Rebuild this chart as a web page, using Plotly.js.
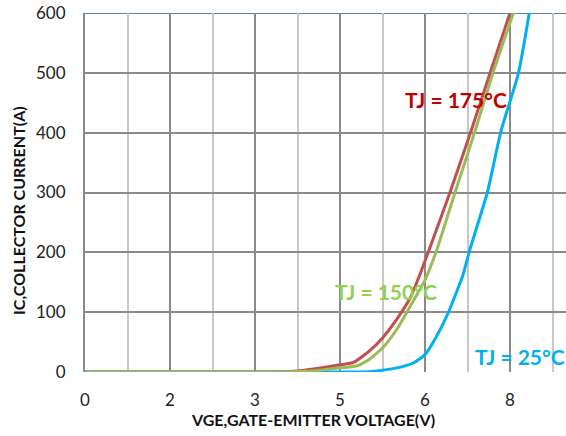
<!DOCTYPE html>
<html>
<head>
<meta charset="utf-8">
<script src="https://cdn.plot.ly/plotly-3.0.1.min.js"></script>
<style>html,body{margin:0;padding:0;background:#fff;}#chart{width:566px;height:436px;}</style>
</head>
<body>
<div id="chart"></div>
<script>
// Data
const seriesNames = ["TJ = 175°C", "TJ = 150°C", "TJ = 25°C"];
const vge175 = [0, 3.0, 3.5, 3.8, 4.15, 4.5, 4.74, 5.03, 5.25, 5.5, 5.74, 5.91, 6.06, 6.44, 6.82, 7.15, 7.5];
const ic175  = [0, 0, 0.5, 2, 6.6, 12, 16, 36, 57, 88, 124, 163, 201, 300, 405, 500, 600];
const vge150 = [0, 3.5, 4.0, 4.15, 4.5, 4.79, 5.0, 5.25, 5.5, 5.74, 6.0, 6.2, 6.53, 6.88, 7.2, 7.56];
const ic150  = [0, 0, 1.5, 3, 7, 10, 20, 40, 71, 110, 154, 202, 300, 402, 500, 600];
const vge25  = [0, 4.5, 5.0, 5.32, 5.6, 5.79, 6.0, 6.2, 6.41, 6.55, 6.67, 6.79, 7.1, 7.34, 7.65, 7.84];
const ic25   = [0, 0, 0.5, 4, 9, 15, 29, 59, 99, 132, 162, 204, 300, 402, 500, 600];
const xTickVals = [0, 1.5, 3, 4.5, 6, 7.5];
const xTickText = ["0", "2", "3", "5", "6", "8"];
const yTickVals = [0, 100, 200, 300, 400, 500, 600];
const xTitle = "VGE,GATE-EMITTER VOLTAGE(V)";
const yTitle = "IC,COLLECTOR CURRENT(A)";

const font = "Lato, 'Open Sans', sans-serif";
const lineShape = {shape: "spline", smoothing: 0.5};
const traces = [
  {x: vge175, y: ic175, name: seriesNames[0], mode: "lines", line: Object.assign({color: "#C0504D", width: 3}, lineShape)},
  {x: vge25,  y: ic25,  name: seriesNames[2], mode: "lines", line: Object.assign({color: "#00B0F0", width: 3}, lineShape)},
  {x: vge150, y: ic150, name: seriesNames[1], mode: "lines", line: Object.assign({color: "#9BBB59", width: 3}, lineShape)}
];

const layout = {
  width: 566, height: 436,
  margin: {l: 85, r: 0, t: 13, b: 64},
  paper_bgcolor: "#fff", plot_bgcolor: "#fff",
  showlegend: false,
  font: {family: font, color: "#222", size: 16},
  xaxis: {
    range: [0, 8.488], tickmode: "array", tickvals: xTickVals, ticktext: xTickText,
    showgrid: true, gridcolor: "#8a8a8a", gridwidth: 2, zeroline: false, showline: false,
    ticks: "", ticklabelstandoff: 16, tickfont: {size: 17, family: font, color: "#222"},
    minor: {dtick: 0.75, tick0: 0, showgrid: true, gridcolor: "#c8c8c8", gridwidth: 2, ticks: ""}
  },
  yaxis: {
    range: [0, 600], tickmode: "array", tickvals: yTickVals,
    showgrid: true, gridcolor: "#8a8a8a", gridwidth: 2, zeroline: false,
    showline: true, linecolor: "#8a8a8a", linewidth: 2,
    ticks: "", ticklabelstandoff: 14, tickfont: {size: 17, family: font, color: "#222"}
  },
  shapes: [
    {type: "line", xref: "paper", yref: "y", x0: 0, x1: 1, y0: 600, y1: 600, layer: "between",
     line: {color: "#4F81BD", width: 2}}
  ],
  annotations: [
    {x: 6.55, y: 455, text: "<b>" + seriesNames[0] + "</b>", showarrow: false,
     xanchor: "center", yanchor: "middle", font: {family: font, size: 21, color: "#C00000"}},
    {x: 5.32, y: 135, text: "<b>" + seriesNames[1] + "</b>", showarrow: false,
     xanchor: "center", yanchor: "middle", font: {family: font, size: 21, color: "#92D050"}},
    {x: 7.68, y: 26, text: "<b>" + seriesNames[2] + "</b>", showarrow: false,
     xanchor: "center", yanchor: "middle", font: {family: font, size: 21, color: "#00B0F0"}},
    {xref: "paper", yref: "paper", x: 0.473, y: -0.133, text: "<b>" + xTitle + "</b>", showarrow: false,
     xanchor: "center", yanchor: "middle", font: {family: font, size: 16, color: "#111"}},
    {xref: "paper", yref: "paper", x: -0.137, y: 0.449, text: "<b>" + yTitle + "</b>", showarrow: false,
     xanchor: "center", yanchor: "middle", textangle: -90, font: {family: font, size: 16, color: "#111"}}
  ]
};

Plotly.newPlot("chart", traces, layout, {displayModeBar: false, staticPlot: true});
</script>
</body>
</html>
